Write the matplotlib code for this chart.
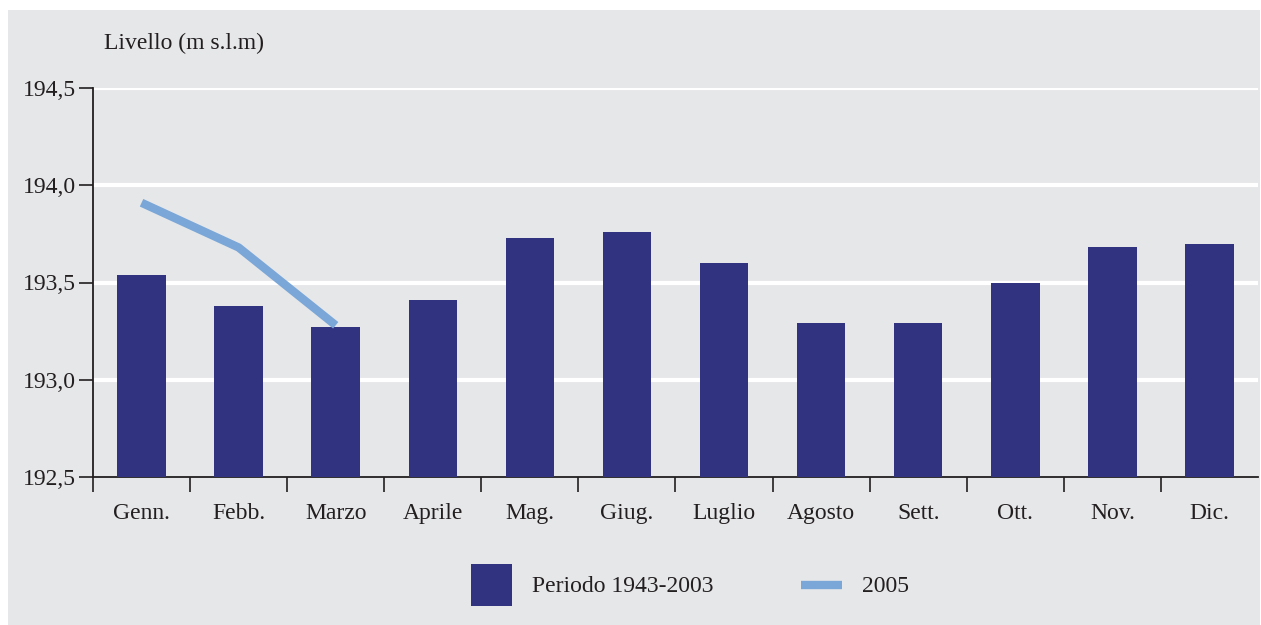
import matplotlib.pyplot as plt
from matplotlib.patches import Patch, Rectangle
from matplotlib.lines import Line2D
from matplotlib.legend_handler import HandlerLine2D

# --- Data ---
mesi = ['Genn.', 'Febb.', 'Marzo', 'Aprile', 'Mag.', 'Giug.', 'Luglio',
        'Agosto', 'Sett.', 'Ott.', 'Nov.', 'Dic.']
livello_medio = [193.54, 193.38, 193.27, 193.41, 193.73, 193.76, 193.60,
                 193.29, 193.29, 193.50, 193.68, 193.70]
livello_2005 = [193.91, 193.68, 193.28]
y_ticks = [192.5, 193.0, 193.5, 194.0, 194.5]
y_labels = ['192,5', '193,0', '193,5', '194,0', '194,5']

# --- Style ---
plt.rcParams['font.family'] = ['Liberation Serif', 'DejaVu Serif']
testo = '#231f20'
sfondo = '#e6e7e9'
blu = '#313280'
azzurro = '#7aa7d8'
fs = 17


class LineaBassa(HandlerLine2D):
    # legend line sits a little lower, level with the text
    def create_artists(self, legend, orig_handle, xdescent, ydescent,
                       width, height, fontsize, trans):
        return super().create_artists(legend, orig_handle, xdescent,
                                      ydescent + 10, width, height,
                                      fontsize, trans)


fig = plt.figure(figsize=(12.61, 6.25), dpi=100)
fig.patch.set_facecolor('white')
# gray panel (small white margin on top and left)
fig.patches.append(Rectangle((8 / 1261, 0), 1 - 9 / 1261, 1 - 10 / 625,
                             transform=fig.transFigure, facecolor=sfondo,
                             edgecolor='none', zorder=-10))

ax = fig.add_axes([93 / 1261, 1 - 477 / 625, (1258 - 93) / 1261, (477 - 88) / 625])
ax.set_facecolor('none')

x = list(range(len(mesi)))
ax.bar(x, [v - 192.5 for v in livello_medio], bottom=192.5, width=0.5,
       color=blu, zorder=3)
ax.plot(x[:len(livello_2005)], livello_2005, color=azzurro, lw=6,
        solid_capstyle='butt', zorder=4)

ax.set_xlim(-0.5, 11.5)
ax.set_ylim(192.5, 194.5)
ax.set_yticks(y_ticks)
ax.set_yticklabels(y_labels)
for y in y_ticks[1:]:
    ax.axhline(y, color='white', lw=3, zorder=1)

# month labels at centres, tick marks at boundaries (none at the right end)
ax.set_xticks(x)
ax.set_xticklabels(mesi)
ax.tick_params(axis='x', length=0, pad=19, labelsize=fs, labelcolor=testo)
ax.set_xticks([i - 0.5 for i in range(len(mesi))], minor=True)
ax.tick_params(axis='x', which='minor', length=11, width=1.2, color=testo)
ax.tick_params(axis='y', length=10, width=1.2, color=testo, pad=2,
               labelsize=fs, labelcolor=testo)

for s in ['top', 'right']:
    ax.spines[s].set_visible(False)
for s in ['left', 'bottom']:
    ax.spines[s].set_color(testo)
    ax.spines[s].set_linewidth(1.3)

fig.text(104 / 1261, 1 - 43 / 625, 'Livello (m s.l.m)', fontsize=fs,
         color=testo, va='center', ha='left')

handles = [Patch(facecolor=blu, edgecolor='none'),
           Line2D([], [], color=azzurro, lw=6, solid_capstyle='butt')]
fig.legend(handles, ['Periodo 1943-2003', '2005'], loc='center',
           bbox_to_anchor=(690 / 1261, 1 - 585 / 625), ncol=2, frameon=False,
           fontsize=fs, labelcolor=testo, handlelength=1.75, handleheight=2.3,
           handletextpad=0.85, columnspacing=3.7,
           handler_map={Line2D: LineaBassa()})

fig.savefig('out.png', dpi=100, facecolor=fig.get_facecolor())
